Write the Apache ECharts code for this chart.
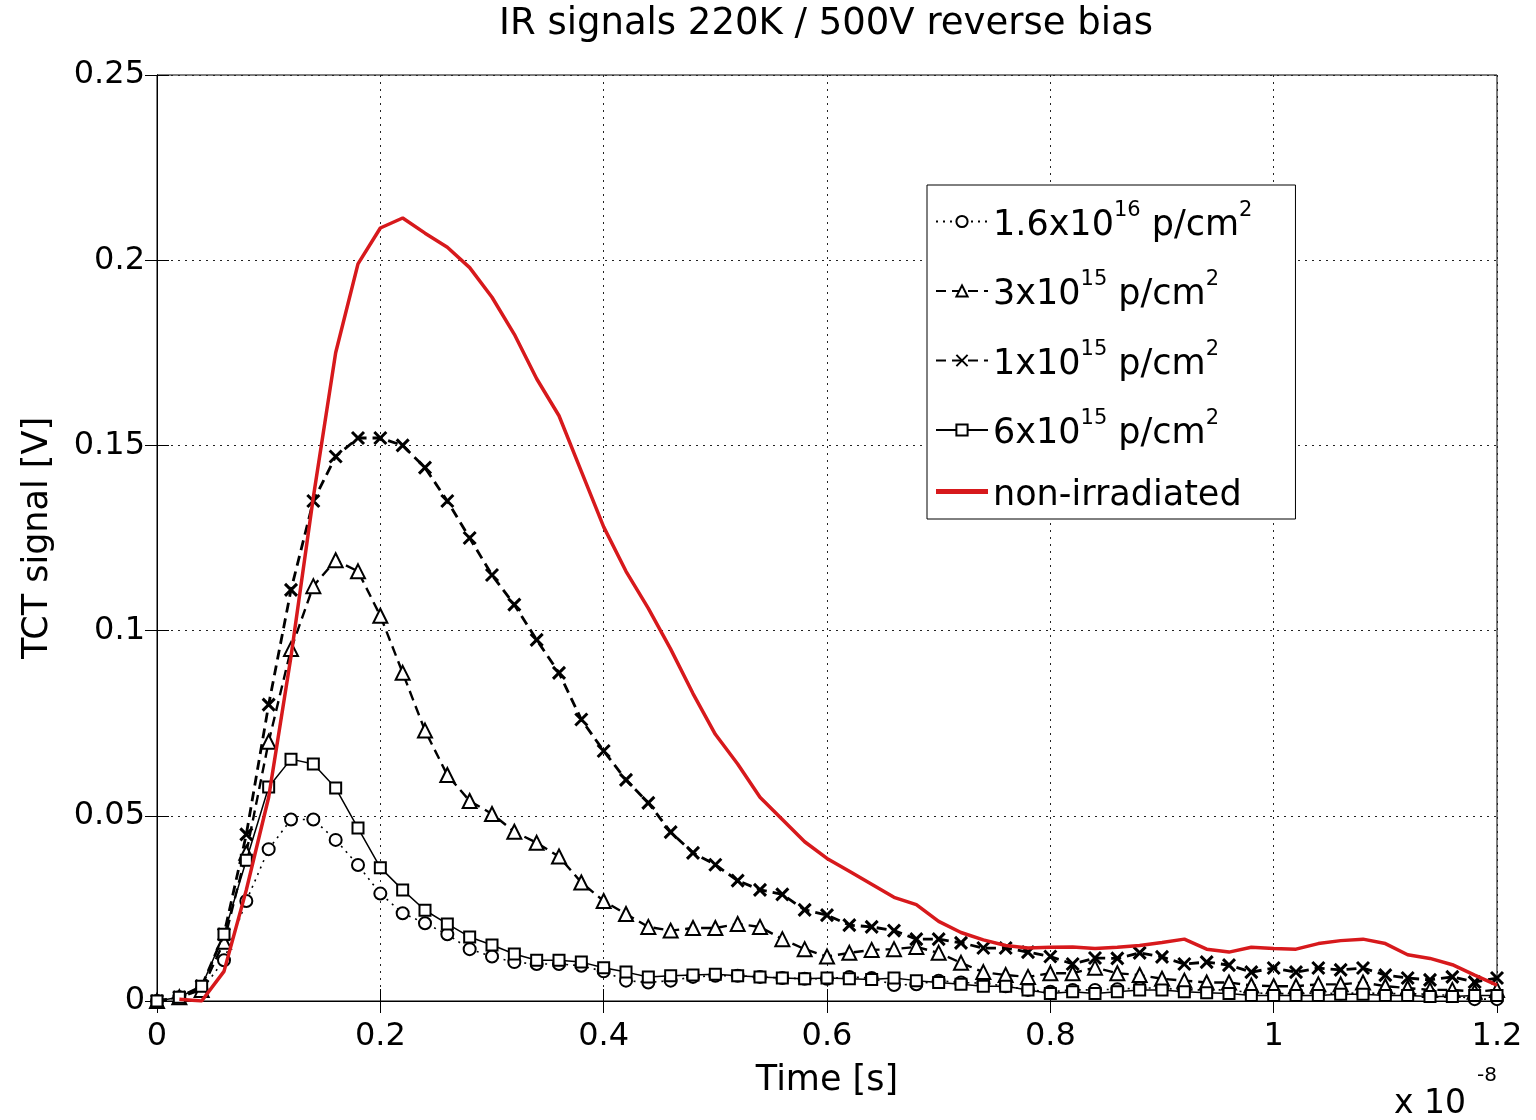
<!DOCTYPE html>
<html>
<head>
<meta charset="utf-8">
<title>IR signals 220K / 500V reverse bias</title>
<script src="https://cdn.jsdelivr.net/npm/echarts@6/dist/echarts.min.js"></script>
<style>
  html, body { margin: 0; padding: 0; background: #fff; }
  #chart { width: 1536px; height: 1120px; }
</style>
</head>
<body>
<div id="chart"></div>
<script>
// time axis, units of 1e-8 s
const times = [0, 0.02, 0.04, 0.06, 0.08, 0.10, 0.12, 0.14, 0.16, 0.18,
  0.20, 0.22, 0.24, 0.26, 0.28, 0.30, 0.32, 0.34, 0.36, 0.38,
  0.40, 0.42, 0.44, 0.46, 0.48, 0.50, 0.52, 0.54, 0.56, 0.58,
  0.60, 0.62, 0.64, 0.66, 0.68, 0.70, 0.72, 0.74, 0.76, 0.78,
  0.80, 0.82, 0.84, 0.86, 0.88, 0.90, 0.92, 0.94, 0.96, 0.98,
  1.00, 1.02, 1.04, 1.06, 1.08, 1.10, 1.12, 1.14, 1.16, 1.18, 1.20]

// 1.6x10^16 p/cm^2 (circles, dotted)
const sig16e15 = [0, 0.001, 0.003, 0.011, 0.027, 0.041, 0.049, 0.049, 0.0435, 0.0367,
  0.029, 0.0237, 0.021, 0.018, 0.014, 0.012, 0.0105, 0.010, 0.010, 0.0095,
  0.008, 0.0055, 0.005, 0.0055, 0.0065, 0.0068, 0.0068, 0.0065, 0.0062, 0.006,
  0.006, 0.0065, 0.0062, 0.0043, 0.0045, 0.0055, 0.005, 0.0048, 0.004, 0.003,
  0.0025, 0.003, 0.003, 0.0032, 0.0035, 0.0035, 0.003, 0.003, 0.003, 0.0022,
  0.002, 0.002, 0.0022, 0.002, 0.0022, 0.002, 0.002, 0.0018, 0.0015, 0.0005, 0.0005]

// 3x10^15 p/cm^2 (triangles, dashed)
const sig3e15 = [0, 0.001, 0.003, 0.016, 0.04, 0.07, 0.095, 0.112, 0.119, 0.116,
  0.104, 0.0886, 0.073, 0.061, 0.054, 0.0505, 0.0457, 0.0427, 0.039, 0.032,
  0.027, 0.0235, 0.020, 0.019, 0.0197, 0.0197, 0.0208, 0.020, 0.0167, 0.014,
  0.012, 0.013, 0.0138, 0.014, 0.0146, 0.013, 0.0103, 0.0078, 0.007, 0.0065,
  0.0075, 0.0075, 0.009, 0.0075, 0.007, 0.006, 0.0055, 0.005, 0.005, 0.0042,
  0.004, 0.004, 0.0045, 0.0045, 0.005, 0.004, 0.0035, 0.003, 0.003, 0.0025, 0.003]

// 1x10^15 p/cm^2 (crosses, dashed)
const sig1e15 = [0, 0.001, 0.004, 0.018, 0.045, 0.080, 0.111, 0.135, 0.147, 0.152,
  0.152, 0.150, 0.144, 0.135, 0.125, 0.115, 0.107, 0.0975, 0.0886, 0.076,
  0.0675, 0.0597, 0.0535, 0.0456, 0.040, 0.0368, 0.0325, 0.030, 0.0288, 0.0246,
  0.0232, 0.0205, 0.020, 0.019, 0.0167, 0.0167, 0.0157, 0.0143, 0.0143, 0.0132,
  0.012, 0.010, 0.0116, 0.0115, 0.013, 0.0119, 0.010, 0.0105, 0.0097, 0.0078,
  0.0089, 0.0078, 0.0089, 0.0084, 0.0089, 0.007, 0.0062, 0.0057, 0.0065, 0.0051, 0.0062]

// 6x10^15 p/cm^2 (squares, solid)
const sig6e15 = [0, 0.001, 0.004, 0.018, 0.038, 0.0578, 0.0653, 0.064, 0.0575, 0.0467,
  0.036, 0.030, 0.0245, 0.0208, 0.0173, 0.0151, 0.0127, 0.011, 0.011, 0.0105,
  0.009, 0.0078, 0.0065, 0.0068, 0.007, 0.0072, 0.0068, 0.0065, 0.0062, 0.006,
  0.0062, 0.006, 0.0058, 0.0062, 0.0055, 0.005, 0.0045, 0.004, 0.004, 0.003,
  0.002, 0.0025, 0.002, 0.0025, 0.003, 0.003, 0.0025, 0.0022, 0.002, 0.0015,
  0.0015, 0.0015, 0.0015, 0.0018, 0.0018, 0.0015, 0.0015, 0.0012, 0.0012, 0.0015, 0.0015]

// non-irradiated (red line), starts at t = 0.02
const redTimes = times.slice(1)
const sigNonIrr = [0.0005, 0.0, 0.008, 0.03, 0.055, 0.093, 0.136, 0.175, 0.199,
  0.2087, 0.2114, 0.2073, 0.2035, 0.198, 0.190, 0.180, 0.168, 0.158, 0.143,
  0.128, 0.116, 0.106, 0.095, 0.083, 0.072, 0.064, 0.055, 0.049, 0.043,
  0.0385, 0.035, 0.0315, 0.028, 0.026, 0.0215, 0.0185, 0.0165, 0.015, 0.0143,
  0.0145, 0.0146, 0.0142, 0.0145, 0.015, 0.0158, 0.0167, 0.014, 0.0132, 0.0145,
  0.0142, 0.014, 0.0155, 0.0163, 0.0167, 0.0155, 0.0125, 0.0115, 0.0098, 0.007, 0.0043]

const legendBase = ['1.6x10', '3x10', '1x10', '6x10']
const legendExp = ['16', '15', '15', '15']
const seriesNames = ['1.6e16', '3e15', '1e15', '6e15', 'non-irradiated']

const font = "'DejaVu Sans', Verdana, sans-serif"
const crossPath = 'path://M0,0L10,10M10,0L0,10'
// flat bar so the red legend entry reads as a plain line
const flatIcon = 'path://M0,0L10,0L10,1L0,1Z'

function pairs(xs, ys) {
  return ys.map((v, i) => [xs[i], v])
}

const chart = echarts.init(document.getElementById('chart'))

const tickStyle = { inside: true, length: 12, lineStyle: { color: '#000', width: 1 } }
const gridLine = { show: true, lineStyle: { color: '#222', width: 1, type: [2, 5] } }

chart.setOption({
  animation: false,
  backgroundColor: '#fff',
  title: {
    text: 'IR signals 220K / 500V reverse bias',
    left: 494,
    top: 1,
    textStyle: { fontFamily: font, fontSize: 37, fontWeight: 'normal', color: '#000' }
  },
  grid: {
    left: 157, right: 39, top: 75, bottom: 119,
    show: true, borderColor: '#000', borderWidth: 1, backgroundColor: '#fff'
  },
  legend: {
    orient: 'vertical',
    left: 927,
    top: 185,
    padding: [15, 43, 6, 8],
    itemGap: 26.5,
    itemWidth: 52,
    itemHeight: 14,
    backgroundColor: '#fff',
    borderColor: '#000',
    borderWidth: 1,
    borderRadius: 0,
    data: seriesNames.map((n, i) => (i === 4 ? { name: n, icon: flatIcon } : n)),
    textStyle: {
      fontFamily: font, fontSize: 35, color: '#000',
      rich: {
        n: { fontFamily: font, fontSize: 35, color: '#000', lineHeight: 43, verticalAlign: 'bottom' },
        e: { fontFamily: font, fontSize: 21, color: '#000', lineHeight: 43, verticalAlign: 'top' }
      }
    },
    formatter: (name) => {
      const i = seriesNames.indexOf(name)
      if (i < 4) {
        return '{n|' + legendBase[i] + '}{e|' + legendExp[i] + '}{n| p/cm}{e|2}'
      }
      return '{n|' + name + '}'
    }
  },
  xAxis: [{
    type: 'value',
    min: 0, max: 1.2, interval: 0.2,
    name: 'Time [s]',
    nameLocation: 'middle',
    nameGap: 62,
    nameTextStyle: { fontFamily: font, fontSize: 35, color: '#000' },
    axisLine: { show: true, lineStyle: { color: '#000' } },
    axisTick: tickStyle,
    axisLabel: { fontFamily: font, fontSize: 32, color: '#000', margin: 20 },
    splitLine: gridLine
  }, {
    type: 'value', position: 'top',
    min: 0, max: 1.2, interval: 0.2,
    axisLine: { show: true, lineStyle: { color: '#000' } },
    axisTick: tickStyle,
    axisLabel: { show: false },
    splitLine: { show: false }
  }],
  yAxis: [{
    type: 'value',
    min: 0, max: 0.25, interval: 0.05,
    name: 'TCT signal [V]',
    nameLocation: 'middle',
    nameGap: 102,
    nameTextStyle: { fontFamily: font, fontSize: 35, color: '#000' },
    axisLine: { show: true, lineStyle: { color: '#000' } },
    axisTick: tickStyle,
    axisLabel: { fontFamily: font, fontSize: 32, color: '#000', margin: 12 },
    splitLine: gridLine
  }, {
    type: 'value', position: 'right',
    min: 0, max: 0.25, interval: 0.05,
    axisLine: { show: true, lineStyle: { color: '#000' } },
    axisTick: tickStyle,
    axisLabel: { show: false },
    splitLine: { show: false }
  }],
  graphic: [{
    type: 'text',
    x: 1394,
    y: 1121,
    style: { text: 'x 10', fontFamily: font, fontSize: 33, fill: '#000', align: 'left', verticalAlign: 'bottom' }
  }, {
    type: 'text',
    x: 1477,
    y: 1086,
    style: { text: '-8', fontFamily: font, fontSize: 20, fill: '#000', align: 'left', verticalAlign: 'bottom' }
  }],
  series: [{
    name: seriesNames[0],
    type: 'line',
    data: pairs(times, sig16e15),
    symbol: 'emptyCircle',
    symbolSize: 12,
    showAllSymbol: true,
    lineStyle: { color: '#000', width: 1.6, type: [2, 5] },
    itemStyle: { color: '#000', borderColor: '#000', borderWidth: 2 },
    z: 2
  }, {
    name: seriesNames[1],
    type: 'line',
    data: pairs(times, sig3e15),
    symbol: 'emptyTriangle',
    symbolSize: 14,
    showAllSymbol: true,
    lineStyle: { color: '#000', width: 2.4, type: [10, 6] },
    itemStyle: { color: '#000', borderColor: '#000', borderWidth: 2 },
    z: 3
  }, {
    name: seriesNames[2],
    type: 'line',
    data: pairs(times, sig1e15),
    symbol: crossPath,
    symbolSize: 12,
    showAllSymbol: true,
    lineStyle: { color: '#000', width: 2.8, type: [10, 6] },
    itemStyle: { color: 'none', borderColor: '#000', borderWidth: 3 },
    z: 4
  }, {
    name: seriesNames[3],
    type: 'line',
    data: pairs(times, sig6e15),
    symbol: 'emptyRect',
    symbolSize: 11,
    showAllSymbol: true,
    lineStyle: { color: '#000', width: 1.5 },
    itemStyle: { color: '#000', borderColor: '#000', borderWidth: 1.8 },
    z: 5
  }, {
    name: seriesNames[4],
    type: 'line',
    data: pairs(redTimes, sigNonIrr),
    symbol: 'none',
    lineStyle: { color: '#d7191c', width: 3.5 },
    itemStyle: { color: '#d7191c' },
    z: 6
  }]
})
</script>
</body>
</html>
